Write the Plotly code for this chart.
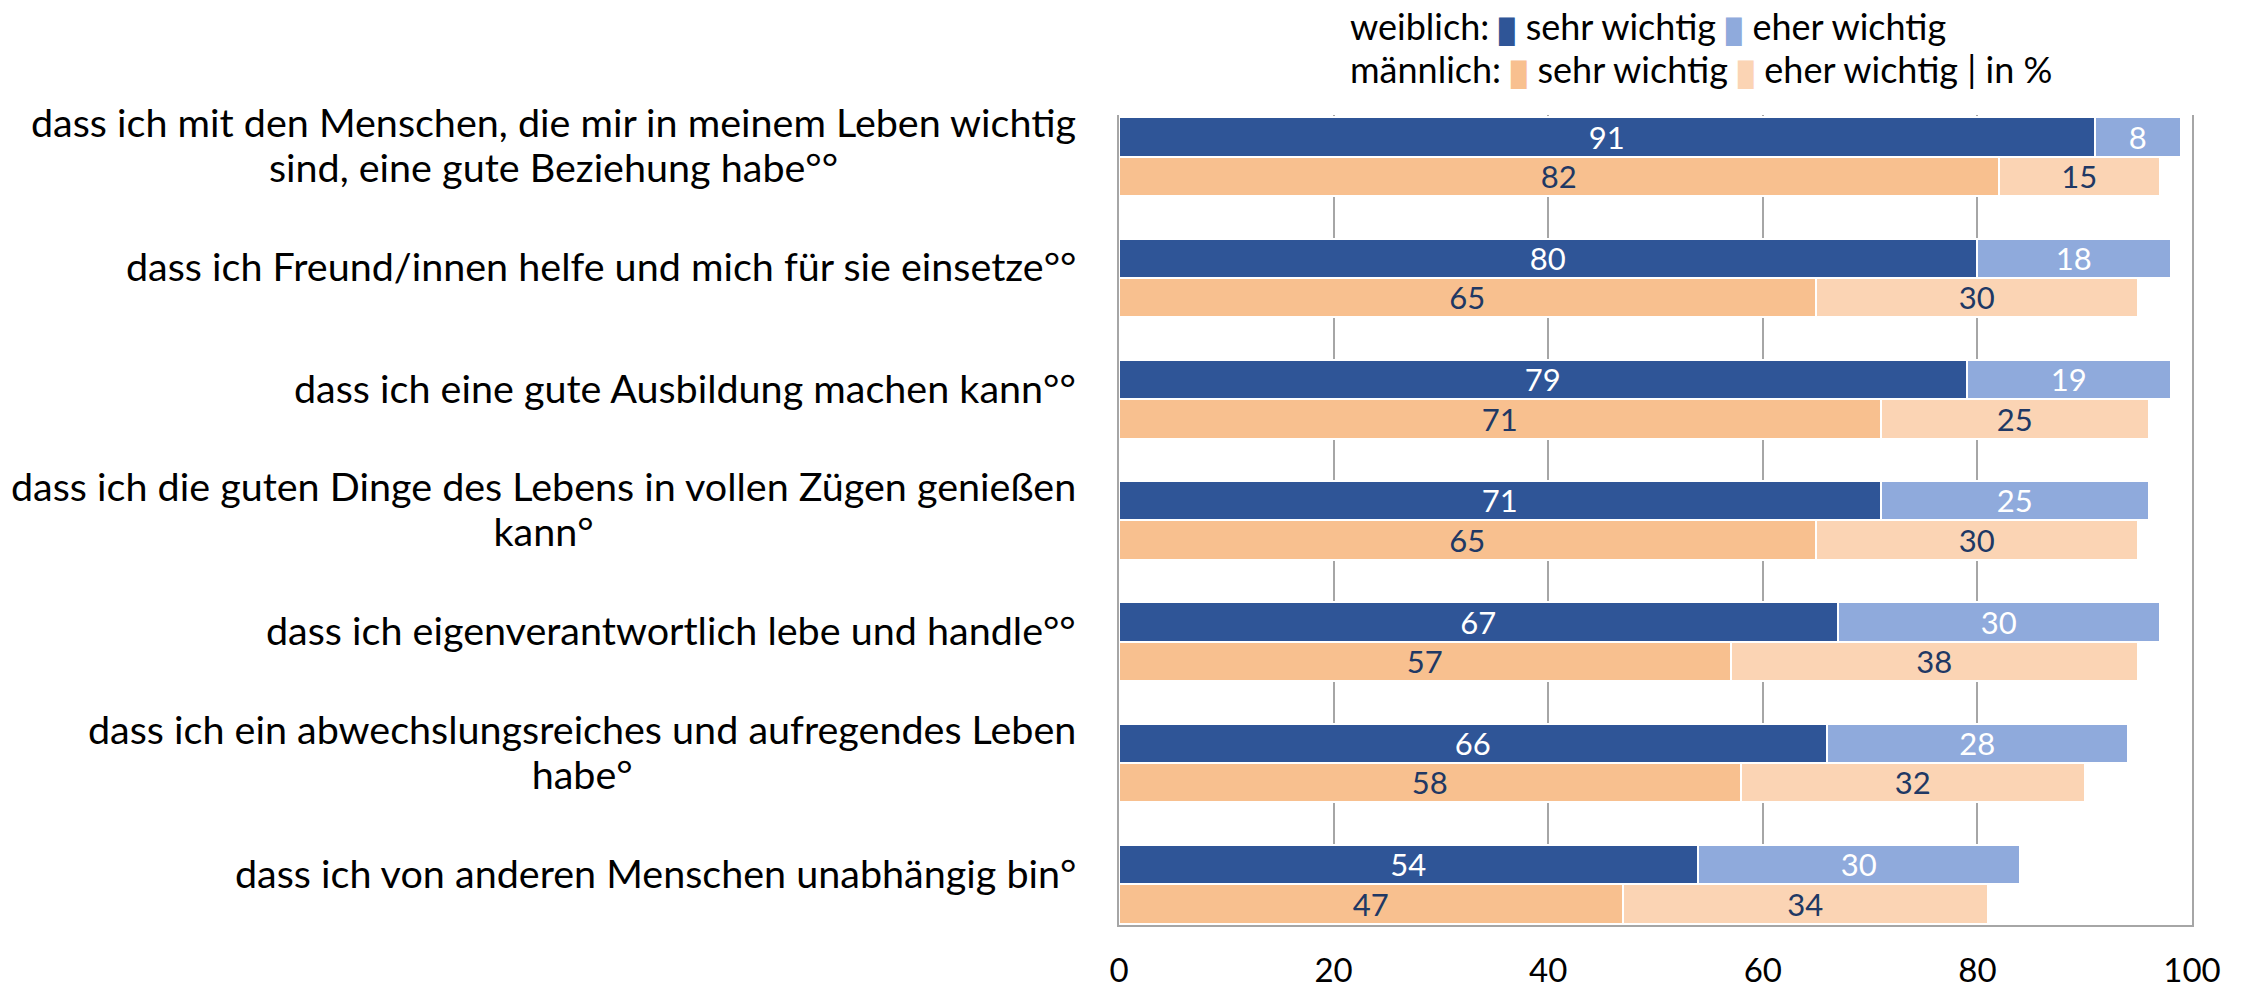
import plotly.graph_objects as go

categories = [
    "dass ich mit den Menschen, die mir in meinem Leben wichtig<br>sind, eine gute Beziehung habe°°",
    "dass ich Freund/innen helfe und mich für sie einsetze°°",
    "dass ich eine gute Ausbildung machen kann°°",
    "dass ich die guten Dinge des Lebens in vollen Zügen genießen<br>kann°",
    "dass ich eigenverantwortlich lebe und handle°°",
    "dass ich ein abwechslungsreiches und aufregendes Leben<br>habe°",
    "dass ich von anderen Menschen unabhängig bin°",
]
female_sehr = [91, 80, 79, 71, 67, 66, 54]
female_eher = [8, 18, 19, 25, 30, 28, 30]
male_sehr = [82, 65, 71, 65, 57, 58, 47]
male_eher = [15, 30, 25, 30, 38, 32, 34]
x_ticks = [0, 20, 40, 60, 80, 100]

C_FS = "#2F5597"
C_FE = "#8FAADC"
C_MS = "#F8C08F"
C_ME = "#FBD4B4"
NAVY = "#203864"
FONT = "Lato"

idx = list(range(len(categories)))
off = 0.1623
bw = 0.3245
yf = [i - off for i in idx]
ym = [i + off for i in idx]

fig = go.Figure()

def add(xvals, yvals, color, tcolor, name):
    fig.add_trace(go.Bar(
        x=xvals, y=yvals, orientation="h", width=bw, name=name,
        marker=dict(color=color, line=dict(color="white", width=2.5)),
        text=xvals, texttemplate="%{x}", textposition="inside",
        insidetextanchor="middle", textangle=0,
        textfont=dict(family=FONT, size=31, color=tcolor),
        hoverinfo="skip", showlegend=False, cliponaxis=False,
    ))

add(female_sehr, yf, C_FS, "white", "weiblich sehr wichtig")
add(female_eher, yf, C_FE, "white", "weiblich eher wichtig")
add(male_sehr, ym, C_MS, NAVY, "männlich sehr wichtig")
add(male_eher, ym, C_ME, NAVY, "männlich eher wichtig")

annotations = []
LINE_H = 44.5
for i, lab in enumerate(categories):
    lines = lab.split("<br>")
    txt = "<br>".join(f"<span style='font-size:39.5px'>{l}</span>" for l in lines)
    annotations.append(dict(
        x=0, xref="paper", y=i - 0.10, yref="y", xshift=-41,
        xanchor="right", yanchor="middle", align="center",
        text=txt, showarrow=False,
        font=dict(family=FONT, size=LINE_H / 1.3, color="black"),
    ))

def sq(c):
    return (f"<span style='color:{c};font-size:32px;stroke:{c};"
            f"stroke-width:4px'>▮</span>")

LEG_H = 43
leg_line1 = f"weiblich: {sq(C_FS)} sehr wichtig {sq(C_FE)} eher wichtig"
leg_line2 = f"männlich: {sq(C_MS)} sehr wichtig {sq(C_ME)} eher wichtig | in %"
leg_txt = "<br>".join(f"<span style='font-size:36px'>{l}</span>" for l in [leg_line1, leg_line2])
annotations.append(dict(
    x=0, xref="paper", xshift=229, xanchor="left",
    y=1, yref="paper", yshift=68, yanchor="middle",
    text=leg_txt, showarrow=False, align="left",
    font=dict(family=FONT, size=LEG_H / 1.3, color="black"),
))

fig.update_layout(
    width=2233, height=981,
    margin=dict(l=1111, r=49, t=107, b=64),
    barmode="stack", bargap=0,
    plot_bgcolor="white", paper_bgcolor="white",
    annotations=annotations,
    uniformtext=dict(minsize=31, mode="show"),
    xaxis=dict(
        range=[0, 100], tickvals=x_ticks, ticktext=[str(v) for v in x_ticks],
        showgrid=True, gridcolor="#A6A6A6", gridwidth=1.5,
        showline=True, linecolor="#A6A6A6", linewidth=1.5, mirror=False,
        zeroline=False, ticks="", ticklabelstandoff=16, automargin=False,
        tickfont=dict(family=FONT, size=33, color="black"),
        fixedrange=True,
    ),
    yaxis=dict(
        range=[6.336, -0.343], showticklabels=False, showgrid=False,
        showline=True, linecolor="#A6A6A6", linewidth=1.5, mirror=True,
        zeroline=False, ticks="", fixedrange=True, automargin=False,
    ),
)

fig.write_html("out.html")
